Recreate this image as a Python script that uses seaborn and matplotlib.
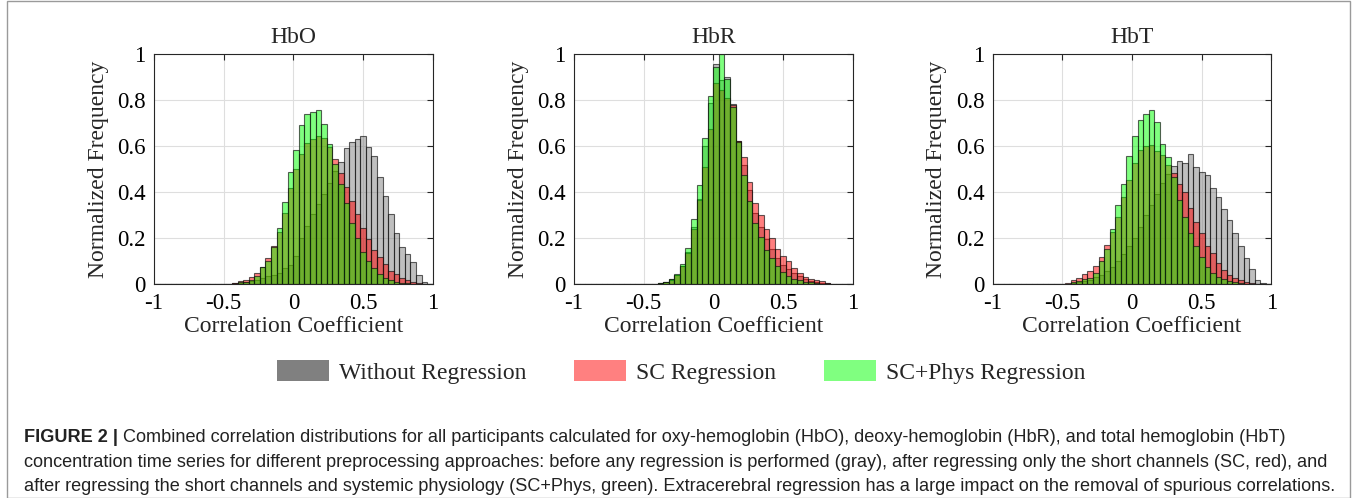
import numpy as np
import pandas as pd
import matplotlib

matplotlib.use("Agg")
import matplotlib.pyplot as plt
from matplotlib.patches import Patch, Rectangle
from matplotlib.colors import to_rgba
import seaborn as sns

# bin scheme of the histograms (-1..1, width 0.04); the series below start at bin -0.52
BIN_EDGES = [round(v, 2) for v in np.linspace(-1.0, 1.0, 51)]
FIRST_BIN = 12

PANELS = ["HbO", "HbR", "HbT"]
SERIES = ["Without Regression", "SC Regression", "SC+Phys Regression"]

HBO_GRAY = [0.001, 0.002, 0.004, 0.006, 0.010, 0.014, 0.020, 0.026, 0.034, 0.042,
            0.050, 0.069, 0.084, 0.124, 0.200, 0.255, 0.305, 0.350, 0.390, 0.440,
            0.490, 0.532, 0.590, 0.620, 0.632, 0.642, 0.598, 0.556, 0.467, 0.384,
            0.304, 0.222, 0.164, 0.131, 0.095, 0.042, 0.012, 0.003]
HBO_RED = [0.001, 0.003, 0.005, 0.015, 0.019, 0.033, 0.048, 0.075, 0.116, 0.166,
           0.225, 0.310, 0.420, 0.500, 0.566, 0.612, 0.631, 0.643, 0.635, 0.598,
           0.546, 0.482, 0.421, 0.363, 0.304, 0.246, 0.195, 0.149, 0.117, 0.087,
           0.059, 0.043, 0.026, 0.019, 0.010, 0.005, 0.002, 0.000]
HBO_GREEN = [0.000, 0.001, 0.003, 0.008, 0.012, 0.019, 0.036, 0.074, 0.103, 0.163,
             0.243, 0.357, 0.486, 0.583, 0.690, 0.738, 0.750, 0.758, 0.696, 0.609,
             0.521, 0.434, 0.352, 0.265, 0.200, 0.140, 0.101, 0.069, 0.045, 0.029,
             0.019, 0.012, 0.007, 0.004, 0.002, 0.001, 0.000, 0.000]

HBR_GRAY = [0.000, 0.001, 0.003, 0.007, 0.012, 0.021, 0.042, 0.080, 0.140, 0.250,
            0.370, 0.600, 0.786, 0.955, 0.887, 0.900, 0.785, 0.622, 0.520, 0.410,
            0.310, 0.250, 0.195, 0.155, 0.115, 0.085, 0.065, 0.048, 0.034, 0.022,
            0.015, 0.010, 0.007, 0.004, 0.002, 0.001, 0.000, 0.000]
HBR_RED = [0.000, 0.001, 0.003, 0.007, 0.012, 0.020, 0.040, 0.078, 0.135, 0.240,
           0.366, 0.510, 0.674, 0.873, 0.844, 0.810, 0.780, 0.624, 0.551, 0.446,
           0.352, 0.301, 0.240, 0.203, 0.153, 0.123, 0.101, 0.072, 0.051, 0.033,
           0.025, 0.017, 0.013, 0.007, 0.003, 0.001, 0.000, 0.000]
HBR_GREEN = [0.000, 0.001, 0.002, 0.006, 0.010, 0.022, 0.045, 0.088, 0.158, 0.282,
             0.433, 0.635, 0.819, 0.945, 1.000, 0.890, 0.770, 0.620, 0.475, 0.363,
             0.268, 0.204, 0.149, 0.113, 0.080, 0.052, 0.036, 0.025, 0.018, 0.012,
             0.008, 0.005, 0.003, 0.002, 0.001, 0.000, 0.000, 0.000]

HBT_GRAY = [0.001, 0.002, 0.005, 0.008, 0.013, 0.020, 0.030, 0.042, 0.056, 0.075,
            0.100, 0.130, 0.165, 0.200, 0.250, 0.300, 0.345, 0.390, 0.440, 0.480,
            0.515, 0.534, 0.525, 0.564, 0.511, 0.489, 0.475, 0.420, 0.381, 0.326,
            0.279, 0.221, 0.166, 0.113, 0.065, 0.019, 0.004, 0.000]
HBT_RED = [0.002, 0.004, 0.019, 0.026, 0.043, 0.059, 0.080, 0.120, 0.169, 0.229,
           0.294, 0.378, 0.453, 0.528, 0.583, 0.602, 0.606, 0.580, 0.560, 0.518,
           0.485, 0.436, 0.400, 0.330, 0.270, 0.221, 0.166, 0.137, 0.091, 0.062,
           0.041, 0.026, 0.019, 0.012, 0.005, 0.002, 0.000, 0.000]
HBT_GREEN = [0.000, 0.002, 0.008, 0.014, 0.022, 0.029, 0.051, 0.103, 0.152, 0.239,
             0.343, 0.434, 0.557, 0.644, 0.713, 0.739, 0.757, 0.706, 0.608, 0.554,
             0.467, 0.366, 0.294, 0.224, 0.168, 0.117, 0.077, 0.051, 0.033, 0.022,
             0.014, 0.008, 0.005, 0.003, 0.001, 0.000, 0.000, 0.000]

PANEL_DATA = {
    "HbO": [HBO_GRAY, HBO_RED, HBO_GREEN],
    "HbR": [HBR_GRAY, HBR_RED, HBR_GREEN],
    "HbT": [HBT_GRAY, HBT_RED, HBT_GREEN],
}
BAR_COLORS = [(0.5, 0.5, 0.5), (1.0, 0.0, 0.0), (0.0, 1.0, 0.0)]
LEGEND_COLORS = ["#808080", "#ff8080", "#80ff80"]

CAPTION_BOLD = "FIGURE 2 |"
CAPTION_LINES = [
    "Combined correlation distributions for all participants calculated for oxy-hemoglobin (HbO), deoxy-hemoglobin (HbR), and total hemoglobin (HbT)",
    "concentration time series for different preprocessing approaches: before any regression is performed (gray), after regressing only the short channels (SC, red), and",
    "after regressing the short channels and systemic physiology (SC+Phys, green). Extracerebral regression has a large impact on the removal of spurious correlations.",
]

sns.set_theme(style="white")
plt.rcParams["font.family"] = ["Liberation Serif", "DejaVu Serif"]

W, H = 1357, 498
fig = plt.figure(figsize=(W / 100, H / 100), dpi=100)
fig.patch.set_facecolor("white")

centers = [BIN_EDGES[FIRST_BIN + i] + 0.02 for i in range(len(HBO_GRAY))]
axes_left = [154, 574, 992.7]
for name, left in zip(PANELS, axes_left):
    ax = fig.add_axes([left / W, 1 - 284.3 / H, 278.7 / W, 230.3 / H])
    for values, color in zip(PANEL_DATA[name], BAR_COLORS):
        frame = pd.DataFrame({"r": centers, "freq": values})
        n_before = len(ax.patches)
        sns.histplot(data=frame, x="r", weights="freq", bins=BIN_EDGES, color=color,
                     alpha=0.5, edgecolor="black", linewidth=0.8, ax=ax)
        for bar in ax.patches[n_before:]:
            bar.set_alpha(None)
            bar.set_facecolor(to_rgba(color, 0.5))
            bar.set_edgecolor((0.05, 0.05, 0.05, 0.65))
    ax.set_xlim(-1, 1)
    ax.set_ylim(0, 1)
    ax.set_xticks([-1, -0.5, 0, 0.5, 1])
    ax.set_xticklabels(["-1", "-0.5", "0", "0.5", "1"])
    ax.set_yticks([0, 0.2, 0.4, 0.6, 0.8, 1])
    ax.set_yticklabels(["0", "0.2", "0.4", "0.6", "0.8", "1"])
    ax.grid(True, color="#dedede", linewidth=0.8)
    ax.set_axisbelow(True)
    ax.tick_params(direction="in", length=4, width=0.8, color="#262626",
                   labelsize=16.5, top=True, right=True, pad=6, labelcolor="black")
    for spine in ax.spines.values():
        spine.set_color("#262626")
        spine.set_linewidth(0.8)
    ax.set_title(name, fontsize=17, pad=8)
    ax.set_xlabel("Correlation Coefficient", fontsize=17, labelpad=2)
    ax.set_ylabel("Normalized Frequency", fontsize=17, labelpad=6)

handles = [Patch(facecolor=c, edgecolor="none") for c in LEGEND_COLORS]
fig.legend(handles, SERIES, loc="center", bbox_to_anchor=(0.502, 1 - 372 / H), ncol=3,
           frameon=False, fontsize=17, handlelength=2.2, handleheight=1.0,
           handletextpad=0.45, columnspacing=2.0)

# caption: bold lead-in, then regular text continuing on the same line
cap_kw = dict(family=["Liberation Sans", "DejaVu Sans"], fontsize=13.1, va="center", ha="left",
              color="#222222")
line_y = [438, 462, 486]
lead = fig.text(24 / W, 1 - line_y[0] / H, CAPTION_BOLD, fontweight="bold", **cap_kw)
renderer = fig.canvas.get_renderer()
lead_right = lead.get_window_extent(renderer).x1
fig.text((lead_right + 5) / W, 1 - line_y[0] / H, CAPTION_LINES[0], **cap_kw)
fig.text(24 / W, 1 - line_y[1] / H, CAPTION_LINES[1], **cap_kw)
fig.text(24 / W, 1 - line_y[2] / H, CAPTION_LINES[2], **cap_kw)

# thin frame around figure and caption, inset at the sides as in the source page
fig.add_artist(Rectangle((7 / W, 0.5 / H), 1343 / W, 1 - 1.5 / H, transform=fig.transFigure,
                         fill=False, edgecolor="#9a9a9a", linewidth=1.0))

fig.savefig("out.png", dpi=100, facecolor="white")
